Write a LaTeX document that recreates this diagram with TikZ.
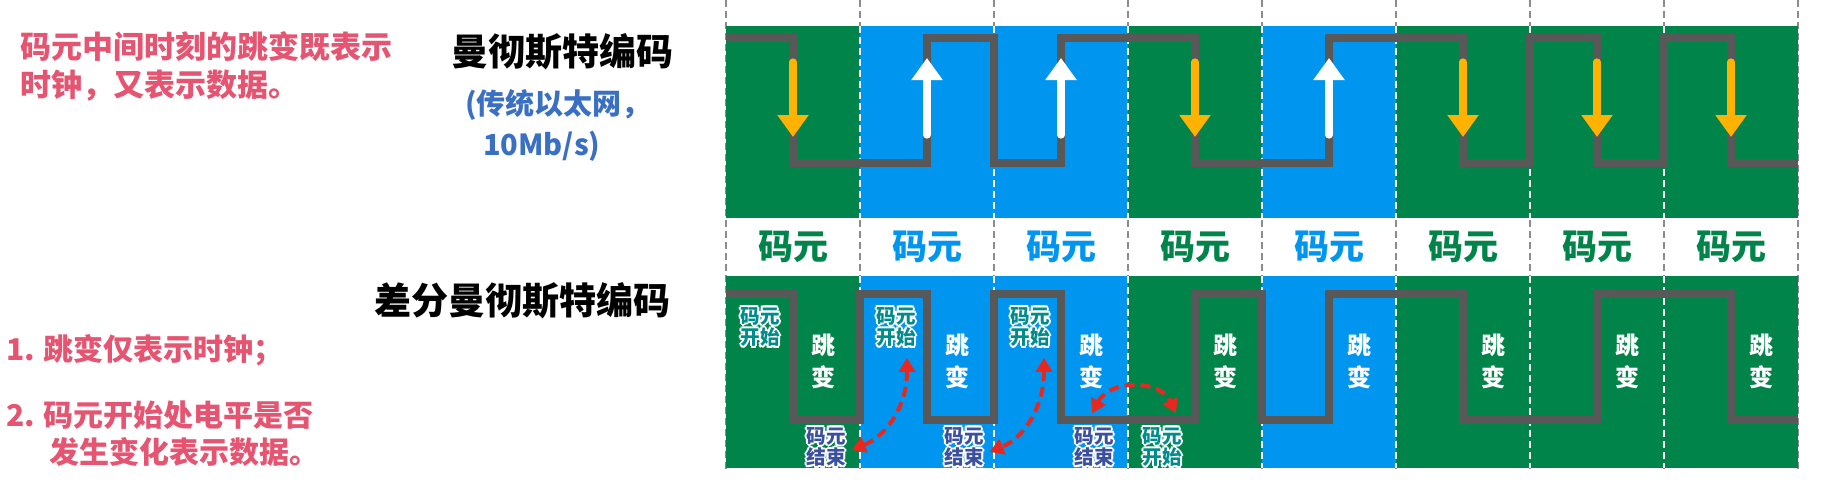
\documentclass[tikz,border=0pt]{standalone}
\usepackage{fontspec}
\setmainfont{Noto Sans CJK SC}
\usetikzlibrary{arrows.meta}
\definecolor{cgreen}{RGB}{0,132,74}
\definecolor{cblue}{RGB}{0,150,240}
\definecolor{wave}{RGB}{88,88,88}
\definecolor{corange}{RGB}{255,178,0}
\definecolor{cpink}{RGB}{229,84,112}
\definecolor{ctblue}{RGB}{58,112,196}
\definecolor{cred}{RGB}{232,40,30}
\definecolor{cteal}{RGB}{0,140,140}
\definecolor{cslate}{RGB}{60,80,160}
\definecolor{dashgray}{RGB}{140,140,140}
\newbox\halobox
\newcommand\haloat[2]{\rlap{\kern#1\raise#2\copy\halobox}}
\newcommand\halo[2]{\setbox\halobox\hbox{#2}{\color{white}\haloat{1pt}{0pt}\haloat{-1pt}{0pt}\haloat{0pt}{1pt}\haloat{0pt}{-1pt}\haloat{0.7pt}{0.7pt}\haloat{-0.7pt}{0.7pt}\haloat{0.7pt}{-0.7pt}\haloat{-0.7pt}{-0.7pt}}{\color{#1}\copy\halobox}}
\newcommand\twoline[2]{\vbox{\halign{\hfil##\hfil\cr#1\cr#2\cr}}}
\begin{document}
\begin{tikzpicture}[x=0.5pt,y=-0.5pt,
  every node/.style={inner sep=0pt, outer sep=0pt},
  wavestyle/.style={draw=wave, line width=4pt, line join=miter},
  downarr/.style={draw=corange, line width=3.6pt, line cap=round, -{Triangle[width=15pt,length=11pt]}},
  uparr/.style={draw=white, line width=3.6pt, line cap=round, -{Triangle[width=15pt,length=11pt]}},
  redarr/.style={draw=cred, line width=2pt, dash pattern=on 5pt off 3pt, {Triangle[width=8pt,length=7pt]}-{Triangle[width=8pt,length=7pt]}},
  pinktext/.style={text=cpink, font=\bfseries\fontsize{15.5}{18}\selectfont},
  pinklist/.style={text=cpink, font=\bfseries\fontsize{15}{18}\selectfont},
  title/.style={text=black, font=\bfseries\fontsize{18.5}{22}\selectfont},
  subtitle/.style={text=ctblue, font=\bfseries\fontsize{14.5}{16}\selectfont},
  midlabel/.style={font=\bfseries\fontsize{17.5}{19}\selectfont},
  jump/.style={text=white, align=center, font=\bfseries\fontsize{12}{16}\selectfont},
  small/.style={font=\bfseries\fontsize{9.8}{10.8}\selectfont},
  sep/.style={dashgray, line width=0.8pt, dash pattern=on 3.5pt off 2pt}
]
\useasboundingbox (0,0) rectangle (1832,493);
% dashed column separators
\foreach \i in {0,...,8} \draw[sep] (726+134*\i,0) -- (726+134*\i,472);
% bands, labels
\foreach \i/\c in {0/cgreen,1/cblue,2/cblue,3/cgreen,4/cblue,5/cgreen,6/cgreen,7/cgreen}{
  \fill[\c] (726+134*\i,26) rectangle ++(134,192);
  \fill[\c] (726+134*\i,276) rectangle ++(134,192);
  \node[midlabel, text=\c] (m\i) at (793+134*\i,247) {码元};
}
\foreach \i in {1,...,7}{
  \draw[white, line width=0.6pt, dash pattern=on 3.5pt off 2pt] (726+134*\i,26) -- (726+134*\i,218);
  \draw[white, line width=0.6pt, dash pattern=on 3.5pt off 2pt] (726+134*\i,276) -- (726+134*\i,468);
}
\foreach \i in {0,...,7} \node[jump] (j\i) at (823+134*\i,361) {跳\\变};
% Manchester waveform
\draw[wavestyle] (726,38) -| (793,163) -| (927,38) -| (994,163) -| (1061,38) -| (1195,163) -| (1329,38) -| (1463,163) -| (1530,38) -| (1597,163) -| (1664,38) -| (1731,163) -- (1798,163);
\foreach \x in {793,1195,1463,1597,1731} \draw[downarr] (\x,62) -- (\x,137);
\foreach \x in {927,1061,1329} \draw[uparr] (\x,135) -- (\x,58);
% differential Manchester waveform
\draw[wavestyle] (726,294) -| (793,420) -| (860,294) -| (927,420) -| (994,294) -| (1061,420) -| (1195,294) -| (1262,420) -| (1329,294) -| (1463,420) -| (1597,294) -| (1731,420) -- (1798,420);
% small labels
\node[small] (s1) at (760,327) {\halo{cteal}{\twoline{码元}{开始}}};
\node[small] (s2) at (896,327) {\halo{cteal}{\twoline{码元}{开始}}};
\node[small] (s3) at (1030,327) {\halo{cteal}{\twoline{码元}{开始}}};
\node[small] (e1) at (826,447) {\halo{cslate}{\twoline{码元}{结束}}};
\node[small] (e2) at (964,447) {\halo{cslate}{\twoline{码元}{结束}}};
\node[small] (e3) at (1094,447) {\halo{cslate}{\twoline{码元}{结束}}};
\node[small] (s4) at (1162,447) {\halo{cteal}{\twoline{码元}{开始}}};
% red dashed arrows
\draw[redarr] ([shift={(11,9)}]s2.south) .. controls +(0,50) and +(34,-14) .. ([shift={(6,3)}]e1.east);
\draw[redarr] ([shift={(14,9)}]s3.south) .. controls +(0,50) and +(34,-14) .. ([shift={(6,5)}]e2.east);
\draw[redarr] ([shift={(-2,-12)}]e3.north) .. controls +(18,-34) and +(-16,-34) .. ([shift={(14,-12)}]s4.north);
% texts
\node[pinktext, anchor=west] (d1) at (20,47) {码元中间时刻的跳变既表示};
\node[pinktext, anchor=west] (d2) at (20,86) {时钟，又表示数据。};
\node[title] (t1) at (562,52) {曼彻斯特编码};
\node[subtitle, anchor=west] (t1a) at (465,105) {(传统以太网，};
\node[subtitle, anchor=west] (t1b) at (483,146) {10Mb/s)};
\node[title] (t2) at (522,301) {差分曼彻斯特编码};
\node[pinklist, anchor=west] (p1) at (6,350) {1. 跳变仅表示时钟；};
\node[pinklist, anchor=west] (p2) at (6,415) {2. 码元开始处电平是否};
\node[pinklist, anchor=west] (p3) at (49,452) {发生变化表示数据。};
\end{tikzpicture}
\end{document}
